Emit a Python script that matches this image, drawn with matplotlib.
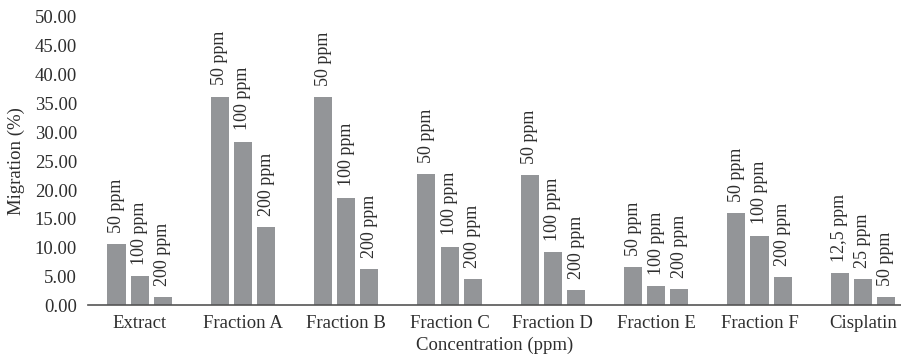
import matplotlib.pyplot as plt
import numpy as np

# Datos
categorias = ['Extract', 'Fraction A', 'Fraction B', 'Fraction C',
              'Fraction D', 'Fraction E', 'Fraction F', 'Cisplatin']
dosis_baja = [10.6, 36.2, 36.1, 22.8, 22.6, 6.6, 16.0, 5.6]
dosis_media = [5.1, 28.4, 18.7, 10.2, 9.2, 3.4, 12.1, 4.6]
dosis_alta = [1.5, 13.6, 6.3, 4.6, 2.7, 2.9, 4.9, 1.5]
etiquetas_baja = ['50 ppm'] * 7 + ['12,5 ppm']
etiquetas_media = ['100 ppm'] * 7 + ['25 ppm']
etiquetas_alta = ['200 ppm'] * 7 + ['50 ppm']

plt.rcParams['font.family'] = ['Liberation Serif', 'DejaVu Serif']
color_texto = '#2e2e2e'

fig = plt.figure(figsize=(9.01, 3.61), dpi=100)
ax = fig.add_axes([0.0977, 0.154, 0.9023, 0.799])

x = np.arange(len(categorias))
ancho = 0.175
paso = 0.224
series = [(dosis_baja, etiquetas_baja, -paso),
          (dosis_media, etiquetas_media, 0),
          (dosis_alta, etiquetas_alta, paso)]

for valores, etiquetas, desplazamiento in series:
    barras = ax.bar(x + desplazamiento, valores, width=ancho, color='#939598')
    for barra, etiqueta in zip(barras, etiquetas):
        ax.annotate(etiqueta, (barra.get_x() + barra.get_width() / 2, barra.get_height()),
                    xytext=(0, 8), textcoords='offset points', rotation=90,
                    ha='center', va='bottom', fontsize=13, color=color_texto)

ax.set_xlim(-0.5, 7.37)
ax.set_ylim(0, 50)
ax.set_yticks(np.arange(0, 50.01, 5))
ax.set_yticklabels([f'{v:.2f}' for v in np.arange(0, 50.01, 5)])
ax.set_xticks(x)
ax.set_xticklabels(categorias)

for lado in ['left', 'right', 'top']:
    ax.spines[lado].set_visible(False)
ax.spines['bottom'].set_color('#555555')
ax.spines['bottom'].set_linewidth(1.2)

ax.tick_params(axis='both', length=0, labelsize=13.5, colors=color_texto)
ax.tick_params(axis='y', pad=8)
ax.tick_params(axis='x', pad=7)

ax.set_xlabel('Concentration (ppm)', fontsize=13.5, color=color_texto, labelpad=3)
ax.set_ylabel('Migration (%)', fontsize=13.5, color=color_texto, labelpad=7)

fig.savefig('out.png', dpi=100)
